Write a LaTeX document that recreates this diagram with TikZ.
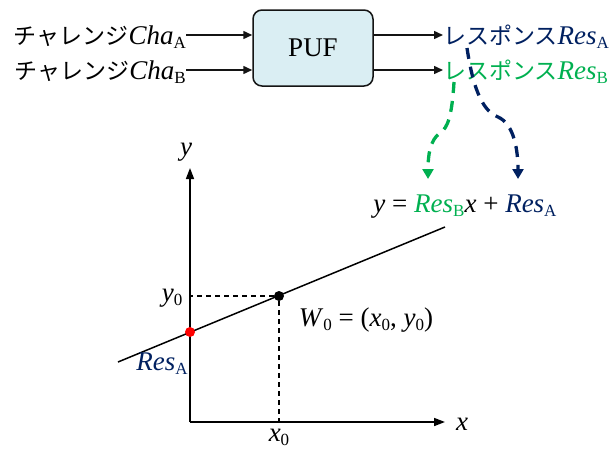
\documentclass[tikz,border=0pt]{standalone}
\usepackage{fontspec}
\setmainfont{Liberation Serif}
\newfontfamily\jpfont{Noto Sans CJK JP}
\usepackage{xcolor}
\usetikzlibrary{arrows.meta, positioning, calc}
\definecolor{navy}{RGB}{0,32,96}
\definecolor{resgreen}{RGB}{0,176,80}
\definecolor{pufblue}{RGB}{218,238,243}
\definecolor{gray20}{RGB}{20,20,20}
\newcommand{\jp}[1]{{\fontsize{23}{26}\selectfont\jpfont #1}}
\newcommand{\subsc}[1]{\raisebox{-4pt}{\fontsize{17}{17}\selectfont\upshape #1}}

\begin{document}
\begin{tikzpicture}[
  x=1pt, y=-1pt,
  font=\fontsize{27}{30}\selectfont,
  >=Stealth,
  pufbox/.style={
    rectangle, rounded corners=9pt, minimum width=120pt, minimum height=76pt,
    draw=gray20, line width=1.5pt, fill=pufblue
  },
  txt/.style   ={inner sep=0pt, text height=18pt, text depth=0pt},
  arrow/.style ={-{Triangle[width=8pt,length=9pt]}, line width=1.5pt, draw=gray20},
  resarrow/.style={-{Triangle[width=11pt,length=10pt]}, line width=3.3pt,
    dash pattern=on 11pt off 8pt},
  axis/.style  ={-{Triangle[width=8pt,length=11pt]}, line width=1.6pt},
  guide/.style ={line width=1.2pt, dash pattern=on 5pt off 4pt},
  dot/.style   ={circle, inner sep=0pt, minimum size=10pt}
]
\useasboundingbox (0,0) rectangle (615,450);

% Row 1 — PUF
\node[pufbox] (puf) at (313,48) {\fontsize{27}{30}\selectfont PUF};
\node[txt, anchor=east] (chaA) at (186,35) {\jp{チャレンジ}\textit{Cha}\subsc{A}};
\node[txt, anchor=east] (chaB) at (186,70) {\jp{チャレンジ}\textit{Cha}\subsc{B}};
\node[txt, anchor=west, text=navy] (resA) at (443,35)
  {\jp{レスポンス}\textit{Res}\subsc{A}};
\node[txt, anchor=west, text=resgreen] (resB) at (443,70)
  {\jp{レスポンス}\textit{Res}\subsc{B}};

\draw[arrow] (chaA.east) -- (chaA.east -| puf.west);
\draw[arrow] (chaB.east) -- (chaB.east -| puf.west);
\draw[arrow] (resA.west -| puf.east) -- (resA.west);
\draw[arrow] (resB.west -| puf.east) -- (resB.west);

% Equation
\node[anchor=base] (eq) at (465,212)
  {\textit{y} = \textcolor{resgreen}{\textit{Res}\subsc{B}}\textit{x}
   + \textcolor{navy}{\textit{Res}\subsc{A}}};
\coordinate (gstart) at (454,82);
\coordinate (gbend)  at (440,133);
\coordinate (gend)   at (428,179);
\coordinate (bstart) at (467,48);
\coordinate (bbend)  at (498,117);
\coordinate (bend)   at (518,179);

\draw[resarrow, draw=resgreen]
  (gstart) .. controls (452,115) and (448,128) .. (gbend)
           .. controls (430,140) and (428,155) .. (gend);
\draw[resarrow, draw=navy]
  (bstart) .. controls (474,95) and (485,112) .. (bbend)
           .. controls (514,124) and (518,150) .. (bend);

% Axes
\coordinate (O)    at (190,422);
\coordinate (ytip) at (190,168);
\coordinate (xtip) at (445,422);
\draw[axis] (O) -- (ytip);
\draw[axis] (O) -- (xtip);
\node (ylab) at (186,152) {\textit{y}};
\node (xlab) at (462,424) {\textit{x}};

% Line y = Res_B x + Res_A
\coordinate (lstart) at (118,362);
\coordinate (lend)   at (445,227);
\draw[line width=1.5pt] (lstart) -- (lend);

\node[dot, fill=black] (w0) at (279,296) {};
\node[dot, fill=red]   (p0) at (190,332) {};
\draw[guide] (w0) -- (w0 -| O);
\draw[guide] (w0) -- (w0 |- O);

% Labels
\node[anchor=east] (y0) at (186,298) {\textit{y}\subsc{0}};
\node (x0) at (279,437) {\textit{x}\subsc{0}};
\node (w0lab) at (366,320) {\textit{W}\subsc{0} = (\textit{x}\subsc{0}, \textit{y}\subsc{0})};
\node[text=navy] (resAlab) at (162,364) {\textit{Res}\subsc{A}};

\end{tikzpicture}
\end{document}
